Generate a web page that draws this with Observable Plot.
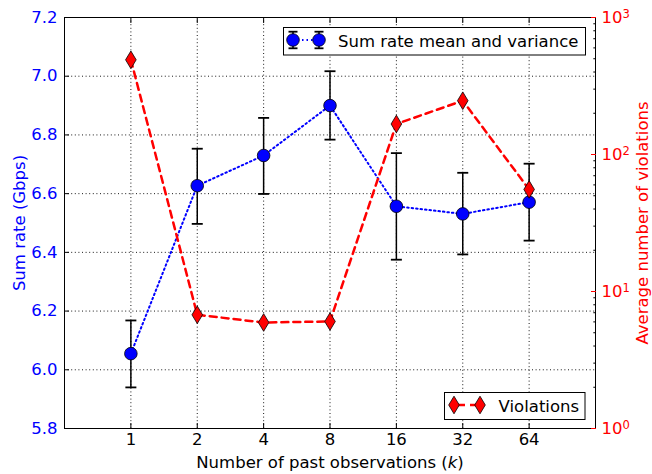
<!DOCTYPE html>
<html><head><meta charset="utf-8">
<script src="https://cdn.jsdelivr.net/npm/d3@7"></script>
<script src="https://cdn.jsdelivr.net/npm/@observablehq/plot@0.6"></script>
<style>
body{margin:0;background:#fff;}
#wrap{position:relative;width:652px;height:474px;font-family:"DejaVu Sans";}
#wrap svg{position:absolute;left:0;top:0;}
</style></head><body><div id="wrap"></div>
<script>
// ---- data ----
const kLabels = ["1", "2", "4", "8", "16", "32", "64"];
const rateMean = [6.055, 6.627, 6.730, 6.900, 6.557, 6.531, 6.571];
const rateLow  = [5.940, 6.497, 6.599, 6.784, 6.375, 6.393, 6.440];
const rateHigh = [6.168, 6.753, 6.858, 7.017, 6.738, 6.671, 6.702];
const violations = [491, 6.76, 5.94, 6.04, 167, 247, 55.6];
const rateTicks = [5.8, 6.0, 6.2, 6.4, 6.6, 6.8, 7.0, 7.2];
const violationTicks = [1, 10, 100, 1000];
const violationMinor = [2,3,4,5,6,7,8,9,20,30,40,50,60,70,80,90,200,300,400,500,600,700,800,900];

const rows = kLabels.map((k, i) => ({pos: i + 1, k, mean: rateMean[i], low: rateLow[i], high: rateHigh[i], v: violations[i]}));
const xPositions = rows.map(d => d.pos);
const xDomain = [0, kLabels.length + 1];

// custom symbols
const capSymbol = {draw(ctx, size) { const w = 5.5; ctx.moveTo(-w, 0); ctx.lineTo(w, 0); }};
const thinDiamond = {draw(ctx, size) { ctx.moveTo(0, -8.8); ctx.lineTo(5.3, 0); ctx.lineTo(0, 8.8); ctx.lineTo(-5.3, 0); ctx.closePath(); }};

const common = {
  width: 652, height: 474,
  marginLeft: 64, marginRight: 57, marginTop: 17, marginBottom: 46,
  style: {fontFamily: "DejaVu Sans", fontSize: "16.5px", background: "transparent", overflow: "visible"}
};
const dotted = {stroke: "black", strokeOpacity: 0.9, strokeDasharray: "1,2.6", strokeWidth: 1};

const plot1 = Plot.plot({
  ...common,
  x: {domain: xDomain, label: null},
  y: {domain: [5.8, 7.2], label: null},
  marks: [
    Plot.gridX(xPositions, dotted),
    Plot.gridY(rateTicks.slice(1, -1), dotted),
    Plot.frame({stroke: "black", strokeWidth: 1}),
    Plot.axisX(xPositions, {anchor: "bottom", tickSize: -5, tickPadding: 10, tickFormat: p => kLabels[p - 1], label: null, fill: "black", stroke: "black"}),
    Plot.axisX(xPositions, {anchor: "top", tickSize: -5, tickFormat: () => "", label: null, stroke: "black"}),
    Plot.axisY(rateTicks, {anchor: "left", tickSize: -5, tickPadding: 12, tickFormat: d3.format(".1f"), stroke: "black", fill: "blue", label: null}),
    Plot.text(["Sum rate (Gbps)"], {frameAnchor: "left", dx: -44.3, rotate: -90, fill: "blue", textAnchor: "middle", lineAnchor: "middle"}),
    Plot.text(["Number of past observations (k)"], {frameAnchor: "bottom", dy: 34, fill: "black", textAnchor: "middle", lineAnchor: "middle"}),
    Plot.ruleX(rows, {x: "pos", y1: "low", y2: "high", stroke: "black", strokeWidth: 1.5}),
    Plot.dot(rows, {x: "pos", y: "high", symbol: capSymbol, fill: "none", stroke: "black", strokeWidth: 1.8}),
    Plot.dot(rows, {x: "pos", y: "low", symbol: capSymbol, fill: "none", stroke: "black", strokeWidth: 1.8}),
    Plot.line(rows, {x: "pos", y: "mean", stroke: "blue", strokeWidth: 2, strokeDasharray: "1.5,3"}),
    Plot.dot(rows, {x: "pos", y: "mean", r: 6.3, fill: "blue", stroke: "black", strokeWidth: 0.8})
  ]
});

const plot2 = Plot.plot({
  ...common,
  x: {domain: xDomain, axis: null, label: null},
  y: {type: "log", domain: [1, 1000], label: null},
  marks: [
    Plot.axisY(violationMinor, {anchor: "right", tickSize: -2.7, tickFormat: () => "", stroke: "black", label: null}),
    Plot.axisY(violationTicks, {anchor: "right", tickSize: -5, tickPadding: 11, tickFormat: d => String(d), color: "red", label: null}),
    Plot.text(["Average number of violations"], {frameAnchor: "right", dx: 47, rotate: -90, fill: "red", textAnchor: "middle", lineAnchor: "middle"}),
    Plot.line(rows, {x: "pos", y: "v", stroke: "red", strokeWidth: 2.5, strokeDasharray: "7,5"}),
    Plot.dot(rows, {x: "pos", y: "v", symbol: thinDiamond, fill: "red", stroke: "black", strokeWidth: 0.8})
  ]
});

// superscript exponents on the log axis
d3.select(plot2).selectAll("text").each(function() {
  const t = this.textContent;
  if (/^10*$/.test(t) && t.length > 0) {
    const exp = String(t.length - 1);
    const s = d3.select(this);
    s.text("10");
    s.append("tspan").attr("dy", "-0.45em").attr("font-size", "0.7em").text(exp);
  }
});
// italic k in the x label
d3.select(plot1).selectAll("text").each(function() {
  if (this.textContent === "Number of past observations (k)") {
    const s = d3.select(this);
    s.text("Number of past observations (");
    s.append("tspan").attr("font-style", "italic").text("k");
    s.append("tspan").text(")");
  }
});

// legends
const leg = d3.create("svg").attr("width", 652).attr("height", 474)
  .style("font-family", "DejaVu Sans").style("font-size", "16.5px");
function errMarker(g, x, y) {
  g.append("line").attr("x1", x).attr("x2", x).attr("y1", y - 8.3).attr("y2", y + 8.3).attr("stroke", "black").attr("stroke-width", 1.5);
  g.append("line").attr("x1", x - 4.5).attr("x2", x + 4.5).attr("y1", y - 8.3).attr("y2", y - 8.3).attr("stroke", "black").attr("stroke-width", 1.8);
  g.append("line").attr("x1", x - 4.5).attr("x2", x + 4.5).attr("y1", y + 8.3).attr("y2", y + 8.3).attr("stroke", "black").attr("stroke-width", 1.8);
  g.append("circle").attr("cx", x).attr("cy", y).attr("r", 6.3).attr("fill", "blue").attr("stroke", "black").attr("stroke-width", 0.8);
}
function diamond(g, x, y) {
  g.append("path").attr("d", `M${x},${y - 8.8}L${x + 5.3},${y}L${x},${y + 8.8}L${x - 5.3},${y}Z`).attr("fill", "red").attr("stroke", "black").attr("stroke-width", 0.8);
}
const g1 = leg.append("g");
g1.append("rect").attr("x", 283.5).attr("y", 27.5).attr("width", 302).attr("height", 27.5).attr("fill", "white").attr("stroke", "black").attr("stroke-width", 1);
g1.append("line").attr("x1", 293).attr("x2", 319).attr("y1", 40).attr("y2", 40).attr("stroke", "blue").attr("stroke-width", 2).attr("stroke-dasharray", "1.5,3");
errMarker(g1, 293, 40);
errMarker(g1, 319, 40);
g1.append("text").attr("x", 338).attr("y", 46.7).text("Sum rate mean and variance");

const g2 = leg.append("g");
g2.append("rect").attr("x", 444.5).attr("y", 392.5).attr("width", 140.5).attr("height", 27).attr("fill", "white").attr("stroke", "black").attr("stroke-width", 1);
g2.append("line").attr("x1", 454).attr("x2", 480).attr("y1", 405).attr("y2", 405).attr("stroke", "red").attr("stroke-width", 2.5).attr("stroke-dasharray", "7,5").attr("stroke-dashoffset", -4);
diamond(g2, 454, 405);
diamond(g2, 480, 405);
g2.append("text").attr("x", 498.6).attr("y", 411.7).text("Violations");

const wrap = document.getElementById("wrap");
wrap.appendChild(plot1);
wrap.appendChild(plot2);
wrap.appendChild(leg.node());
</script>
</body></html>
